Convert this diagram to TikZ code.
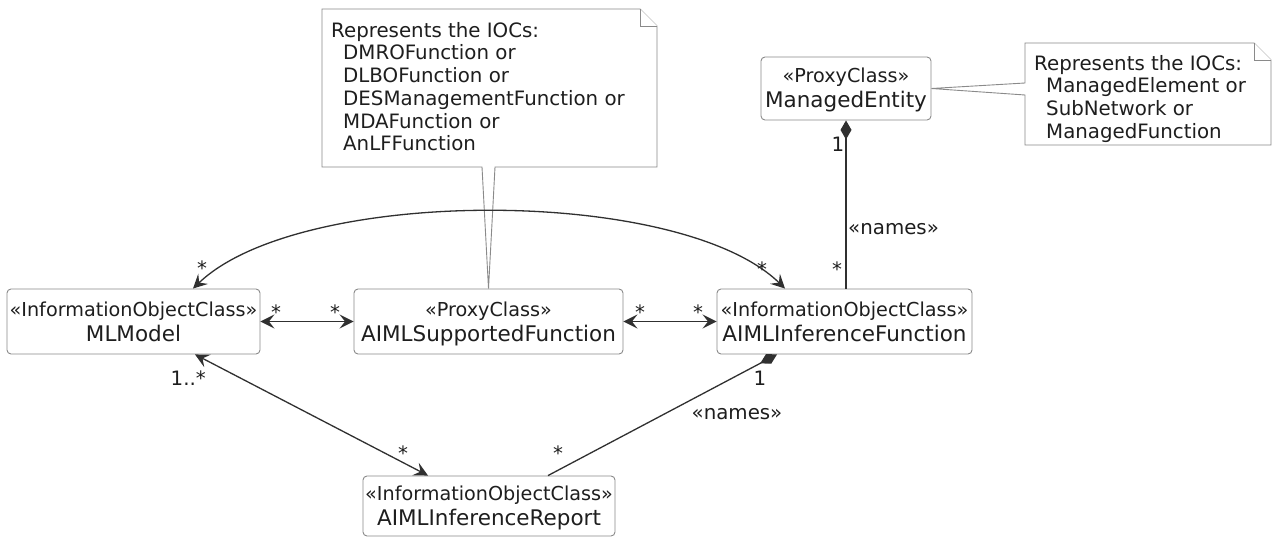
\documentclass[tikz,border=0pt]{standalone}
\usepackage{fontspec}
\setmainfont{DejaVu Sans}
\usepackage{tikz}
\usetikzlibrary{arrows.meta}
\pgfdeclarelayer{background}
\pgfdeclarelayer{foreground}
\pgfsetlayers{background,main,foreground}
\definecolor{boxline}{HTML}{8A8A8A}
\definecolor{linkline}{HTML}{303030}
\definecolor{inktext}{HTML}{1E1E1E}
\newcommand{\stereofont}{\fontsize{19.2}{22}\selectfont}
\newcommand{\namefont}{\fontsize{21.5}{25}\selectfont}
\newcommand{\notefont}{\fontsize{19.8}{22.7}\selectfont}
\newcommand{\classtext}[2]{{\stereofont\rule{0pt}{19pt}«#1»}\\{\rule[-5pt]{0pt}{5pt}#2}}
\tikzset{
  cls/.style={draw=boxline, line width=0.9pt, rounded corners=4pt, fill=white, align=center, font=\namefont, text=inktext, inner sep=0pt},
  assoc/.style={draw=linkline, line width=1.3pt},
  note/.style={draw=boxline, line width=0.9pt, fill=white},
  notetext/.style={anchor=north west, align=left, font=\notefont, text=inktext, inner sep=0pt},
  mult/.style={anchor=base, font=\notefont, text=inktext, inner sep=0pt}
}

\begin{document}
\begin{tikzpicture}[x=1pt,y=-1pt,>={Stealth[length=14pt,width=14pt,inset=5.5pt]}]
\begin{pgfonlayer}{background}
\fill[white] (0,0) rectangle (1281,537);
\end{pgfonlayer}
\useasboundingbox (0,0) rectangle (1281,537);

\node[cls, minimum width=253pt, minimum height=65pt] (mlmodel) at (133.5,321.5) {\classtext{InformationObjectClass}{MLModel}};
\node[cls, minimum width=269pt, minimum height=65pt] (supported) at (488.5,321.5) {\classtext{ProxyClass}{AIMLSupportedFunction}};
\node[cls, minimum width=255pt, minimum height=65pt] (inference) at (844.5,321.5) {\classtext{InformationObjectClass}{AIMLInferenceFunction}};
\node[cls, minimum width=252pt, minimum height=60pt] (report) at (489,506) {\classtext{InformationObjectClass}{AIMLInferenceReport}};
\node[cls, minimum width=170pt, minimum height=63pt] (entity) at (846,88.5) {\classtext{ProxyClass}{ManagedEntity}};

% notes
\draw[note] (322,9) -- (640,9) -- (657,26) -- (657,167) -- (495,167) -- (supported.north) -- (482,167) -- (322,167) -- cycle;
\draw[note] (640,9) -- (640,26) -- (657,26);
\node[notetext] (notefunc) at (331,22) {\rule{0pt}{15pt}Represents the IOCs:\\\hspace*{12pt}DMROFunction or\\\hspace*{12pt}DLBOFunction or\\\hspace*{12pt}DESManagementFunction or\\\hspace*{12pt}MDAFunction or\\\hspace*{12pt}AnLFFunction};
\draw[note] (1025,43) -- (1254,43) -- (1271,60) -- (1271,145) -- (1025,145) -- (1025,95) -- (entity.east) -- (1025,83) -- cycle;
\draw[note] (1254,43) -- (1254,60) -- (1271,60);
\node[notetext] (noteentity) at (1034,55) {\rule{0pt}{15pt}Represents the IOCs:\\\hspace*{12pt}ManagedElement or\\\hspace*{12pt}SubNetwork or\\\hspace*{12pt}ManagedFunction};

% links
\draw[assoc,<->] (mlmodel.east) -- (supported.west);
\draw[assoc,<->] (supported.east) -- (inference.west);
\draw[assoc,<->] ([xshift=59.5pt]mlmodel.north) .. controls (300,186) and (680,186) .. ([xshift=-59.5pt]inference.north);
\draw[assoc,<->] ([xshift=61.5pt]mlmodel.south) -- ([xshift=-61pt]report.north);
\draw[assoc,{Diamond[length=19pt,width=11pt]}-] ([xshift=-67.5pt]inference.south) -- ([xshift=59pt]report.north);
\draw[assoc,{Diamond[length=19pt,width=11pt]}-] (entity.south) -- (entity.south |- inference.north);

% multiplicities
\node[mult] (m1) at (202,275) {*};
\node[mult] (m2) at (762,276) {*};
\node[mult] (m3) at (276,319) {*};
\node[mult] (m4) at (335,319) {*};
\node[mult] (m5) at (640,319) {*};
\node[mult] (m6) at (698,319) {*};
\node[mult] (m7) at (837,276) {*};
\node[mult] (m8) at (838,152) {1};
\node[mult, anchor=base west] (n1) at (848,235) {«names»};
\node[mult, anchor=base east] (m9) at (206,385) {1..*};
\node[mult] (m10) at (403,460) {*};
\node[mult] (m11) at (558,460) {*};
\node[mult] (m12) at (760,385) {1};
\node[mult] (n2) at (737,419) {«names»};
\end{tikzpicture}
\end{document}
